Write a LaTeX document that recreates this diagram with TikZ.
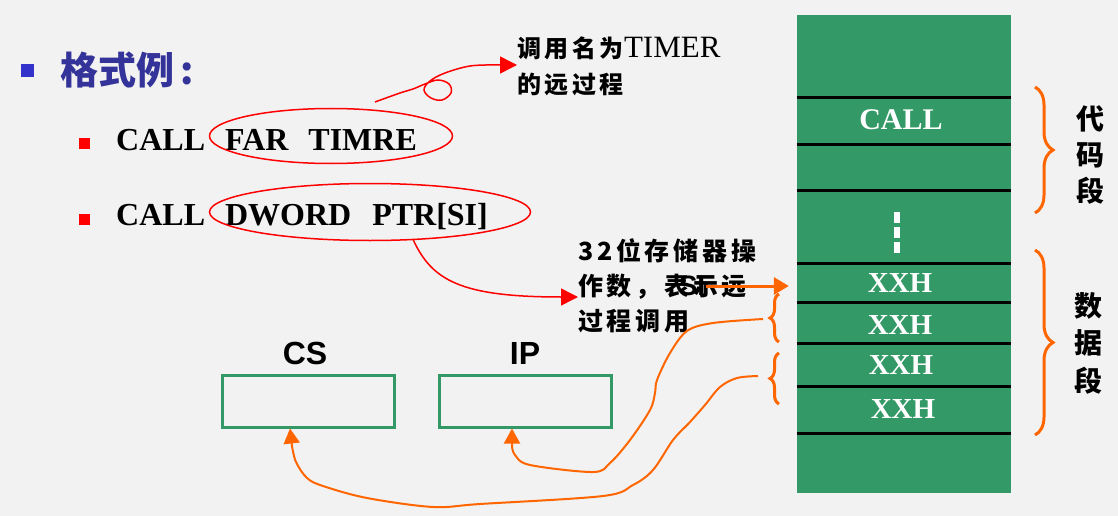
\documentclass[tikz,border=0pt]{standalone}
\usepackage{fontspec}
\setmainfont{Liberation Serif}
\newfontfamily\cjk[LetterSpace=15]{Noto Sans CJK SC}
\newfontfamily\cjkt{Noto Sans CJK SC}
\newfontfamily\arial{Liberation Sans}
\usetikzlibrary{shapes.geometric,arrows.meta,decorations.pathreplacing,calc}
\definecolor{bg}{HTML}{F2F2F2}
\definecolor{sgreen}{HTML}{339966}
\definecolor{sorange}{HTML}{FF6600}
\definecolor{titleblue}{HTML}{333399}
\definecolor{bulblue}{HTML}{3333CC}
\tikzset{
  redline/.style={draw=red, line width=1.5pt},
  orline/.style={draw=sorange, line width=2pt},
  obrace/.style={draw=sorange, line width=3pt, decorate},
  regbox/.style={draw=sgreen, line width=3pt, minimum width=172pt, minimum height=52pt, inner sep=0},
  celltxt/.style={text=white, font=\fontsize{29}{29}\selectfont\bfseries, inner sep=0},
  cmdtxt/.style={font=\fontsize{32}{32}\selectfont\bfseries, anchor=base west, inner sep=0},
  rbullet/.style={fill=red, minimum size=11pt, inner sep=0},
  sep/.style={line width=3pt, black},
  rtri/.style={-{Triangle[length=17pt,width=17pt]}},
  otri/.style={-{Triangle[length=15pt,width=16pt]}},
  reglabel/.style={font=\fontsize{32}{32}\selectfont\arial\bfseries, inner sep=0},
}
\begin{document}
\begin{tikzpicture}[x=1pt,y=-1pt]
\fill[bg] (0,0) rectangle (1118,516);
\useasboundingbox (0,0) rectangle (1118,516);

% title
\node[fill=bulblue, minimum size=13pt, inner sep=0] (tb) at (27,71) {};
\node[anchor=west, inner sep=0, text=titleblue, font=\fontsize{38}{38}\selectfont\cjkt\bfseries] (title) at (60,70) {格式例{\,}:};

% command lines
\node[rbullet] (b1) at (84,143) {};
\node[rbullet] (b2) at (84,219) {};
\node[cmdtxt] (c1) at (116,150) {CALL\hspace{20pt}FAR\hspace{20pt}TIMRE};
\node[cmdtxt] (c2) at (116,225) {CALL\hspace{20pt}DWORD\hspace{21pt}PTR[SI]};

\node[ellipse, redline, minimum width=243pt, minimum height=55pt, inner sep=0] (ell1) at (331,136) {};
\node[ellipse, redline, minimum width=321pt, minimum height=57pt, inner sep=0] (ell2) at (370,212) {};

% annotation texts
\node[anchor=north west, inner sep=0, align=left, font=\fontsize{24}{36}\selectfont] (t1) at (517,37)
  {{\cjk\bfseries 调用名为}{\fontsize{31}{36}\selectfont TIMER}\\{\cjk\bfseries 的远过程}};
\node[anchor=west, inner sep=0, align=left, font=\fontsize{25}{35}\selectfont\cjk\bfseries] (t2) at (578,286)
  {32位存储器操\\作数，表示远\\过程调用};

% red curves
\coordinate (r1s) at (375,102);
\draw[redline, rtri] plot[smooth, tension=0.6] coordinates {(r1s) (400,93) (413,89) (425,84) (438,80) (449,84) (451,93) (442,100) (431,98) (424,90) (430,81) (445,73) (470,66) (495,65)} -- (t1.west |- 0,65);
\draw[redline, rtri] (ell2.-33) .. controls (432,280) and (460,297) .. (t2.west |- 0,297);

% memory column
\node[fill=sgreen, minimum width=214pt, minimum height=478pt, inner sep=0] (col) at (904,254) {};
\foreach \yy in {98,144,190,263,302,343,386,433}
  \draw[sep] (col.west |- 0,\yy) -- (col.east |- 0,\yy);
\node[celltxt, font=\fontsize{30}{30}\selectfont\bfseries] (call) at (901,120) {CALL};
\node[celltxt] (x1) at (900,283) {XXH};
\node[celltxt] (x2) at (900,325) {XXH};
\node[celltxt] (x3) at (901,365) {XXH};
\node[celltxt] (x4) at (903,409) {XXH};
\coordinate (dtop) at (897,212);
\coordinate (dbot) at (897,253);
\draw[white, line width=6pt, dash pattern=on 11pt off 4pt] (dtop) -- (dbot);

% right braces and labels
\draw[obrace, decoration={brace, amplitude=18pt}] (1035,87) -- (1035,213);
\draw[obrace, decoration={brace, amplitude=18pt}] (1035,250) -- (1035,435);
\node[align=center, inner sep=0, font=\fontsize{28}{36}\selectfont\cjkt\bfseries] (cseg) at (1090,155) {代\\码\\段};
\node[align=center, inner sep=0, font=\fontsize{28}{37.5}\selectfont\cjkt\bfseries] (dseg) at (1088,343) {数\\据\\段};

% left small braces
\draw[obrace, decoration={brace, amplitude=9pt}] (779,342) -- (779,294);
\draw[obrace, decoration={brace, amplitude=9pt}] (779,404) -- (779,353);
\coordinate (br1) at (763,319);
\coordinate (br2) at (758,376);

% SI pointer
\node[inner sep=1pt, font=\fontsize{28}{28}\selectfont\arial\bfseries] (si) at (692,286) {SI};
\draw[sorange, line width=3pt, -{Triangle[length=15pt,width=17pt]}] (si.east) -- ([xshift=-8pt]col.west |- si.east);

% CS / IP registers
\node[regbox] (cs) at (308,401) {};
\node[regbox] (ip) at (525,401) {};
\node[reglabel] (csl) at (305,353) {CS};
\node[reglabel] (ipl) at (525,353) {IP};

% orange curves
\draw[orline, otri] plot[smooth, tension=0.55] coordinates {(br2) (737,378) (720,387) (705,405) (690,422) (673,440) (653,470) (633,485) (603,496) (480,504) (433,507) (367,498) (323,486) (307,478) (296,462) (292,446)} -- ([xshift=-18pt]cs.south);
\draw[orline, otri] plot[smooth, tension=0.55] coordinates {(br1) (713,323) (687,331) (670,353) (657,380) (655,393) (650,410) (630,440) (610,463) (593,472) (530,465) (515,455) (512,446)} -- ([xshift=-13pt]ip.south);
\end{tikzpicture}
\end{document}
